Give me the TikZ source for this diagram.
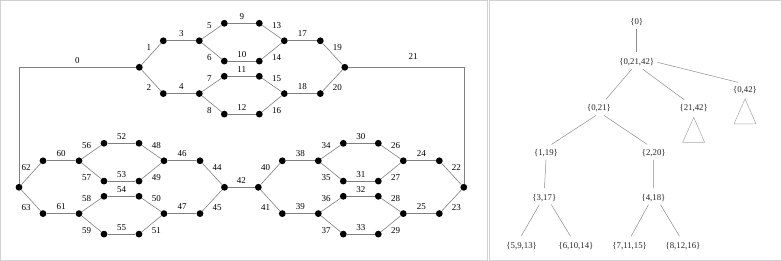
\documentclass[tikz,border=0pt]{standalone}
\usepackage{fontspec}
\setmainfont{Liberation Serif}
\usetikzlibrary{positioning}

\tikzset{
  dot/.style={circle, fill=black, inner sep=0pt, minimum size=6.8pt},
  link/.style={draw=black!50, line width=0.6pt},
  num/.style={font=\fontsize{9}{10}\selectfont, inner sep=1pt},
  lblN/.style={above=2.5pt},
  lblNW/.style={above left=2.5pt and -1pt},
  lblSW/.style={below left=2.5pt and -1pt},
  lblNE/.style={above right=2.5pt and -1pt},
  lblSE/.style={below right=2.5pt and -1pt},
  set/.style={font=\fontsize{8.8}{10}\selectfont, text=black!85, inner sep=3pt},
  branch/.style={draw=black!45, line width=0.5pt, shorten >=3pt},
  subtree/.style={draw=black!35, line width=0.5pt},
  frame/.style={draw=black!18, line width=0.8pt},
}

% one double-hexagon block: prefix, origin x, origin y, edge numbers
\newcommand{\hexblock}[4]{%
  \foreach \n/\dx/\dy in {A/0/0, B/24/-26.5, C/24/26.3, D/60/-26.5, E/60/26.3,
      F/85/-44, G/85/-6.2, H/85/9, I/85/46.8, J/120/-44, K/120/-6.2,
      L/120/9, M/120/46.8, N/145/-26.5, O/145/26.3, P/181/-26.5,
      Q/181/26.3, R/205.5/0}
    \node[dot] (#1\n) at ({#2+\dx},{#3+\dy}) {};
  \foreach \a/\b/\p [count=\i from 0] in {A/B/lblNW, A/C/lblSW, B/D/lblN,
      C/E/lblN, D/F/lblNW, D/G/lblSW, E/H/lblNW, E/I/lblSW, F/J/lblN,
      G/K/lblN, H/L/lblN, I/M/lblN, J/N/lblNE, K/N/lblSE, L/O/lblNE,
      M/O/lblSE, N/P/lblN, O/Q/lblN, P/R/lblNE, Q/R/lblSE} {
    \pgfmathtruncatemacro\lab{{#4}[\i]}
    \draw[link] (#1\a) -- node[num, \p] {\lab} (#1\b);
  }%
}

\begin{document}
\begin{tikzpicture}[x=1pt, y=-1pt]
  % --- CANVAS ---
  \useasboundingbox (0,0) rectangle (782,261);
  \draw[frame] (0.5,0.5) rectangle (487.3,260.4);
  \draw[frame] (489.2,0.5) rectangle (781.4,260.4);

  % --- GRAPH ---
  \hexblock{t}{139.3}{67.3}{1,2,3,4,5,6,7,8,9,10,11,12,13,14,15,16,17,18,19,20}
  \hexblock{l}{19}{187.3}{62,63,60,61,56,57,58,59,52,53,54,55,48,49,50,51,46,47,44,45}
  \hexblock{r}{258.3}{187.3}{40,41,38,39,34,35,36,37,30,31,32,33,26,27,28,29,24,25,22,23}

  % connectors between the blocks
  \draw[link] (tA) -| node[num, lblN, pos=0.25] {0} (lA);
  \draw[link] (tR) -| node[num, above=6pt, pos=0.28] {21} (rR);
  \draw[link] (lR) -- node[num, lblN] {42} (rA);

  % --- TREE ---
  \node[set] (s0)     at (636.7,22.3)  {\{0\}};
  \node[set] (s02142) at (636.7,62.3)  {\{0,21,42\}};
  \node[set] (s042)   at (745,90)      {\{0,42\}};
  \node[set] (s021)   at (599,108.5)   {\{0,21\}};
  \node[set] (s2142)  at (693.7,108.5) {\{21,42\}};
  \node[set] (s119)   at (546,153)     {\{1,19\}};
  \node[set] (s220)   at (653.7,153)   {\{2,20\}};
  \node[set] (s317)   at (544.3,197.7) {\{3,17\}};
  \node[set] (s418)   at (653.5,197.7) {\{4,18\}};
  \node[set] (s5913)  at (521.7,245.7) {\{5,9,13\}};
  \node[set] (s61014) at (576,245.7)   {\{6,10,14\}};
  \node[set] (s71115) at (629.7,245.7) {\{7,11,15\}};
  \node[set] (s81216) at (683,245.7)   {\{8,12,16\}};

  \draw[branch] (s0.south) -- (s02142.north);
  \draw[branch] (s02142.east) -- ([xshift=-4pt]s042.north);
  \draw[branch] ([xshift=-5pt]s02142.south) -- ([xshift=5pt]s021.north);
  \draw[branch] ([xshift=6pt]s02142.south) -- ([xshift=-7pt]s2142.north);
  \draw[branch] ([xshift=-3pt]s021.south) -- ([xshift=3pt]s119.north);
  \draw[branch] ([xshift=5pt]s021.south) -- ([xshift=-4pt]s220.north);
  \draw[branch] (s119.south) -- (s317.north);
  \draw[branch] (s220.south) -- (s418.north);
  \draw[branch] ([xshift=-5pt]s317.south) -- ([xshift=-2pt]s5913.north);
  \draw[branch] ([xshift=7pt]s317.south) -- ([xshift=-4pt]s61014.north);
  \draw[branch] ([xshift=-5pt]s418.south) -- (s71115.north);
  \draw[branch] ([xshift=7pt]s418.south) -- ([xshift=-2pt]s81216.north);

  % collapsed subtrees
  \draw[subtree] ([yshift=-2pt]s2142.south) -- ++(-11,25) -- ++(22,0) -- cycle;
  \draw[subtree] ([yshift=-2pt]s042.south) -- ++(-11,25) -- ++(22,0) -- cycle;
\end{tikzpicture}
\end{document}
